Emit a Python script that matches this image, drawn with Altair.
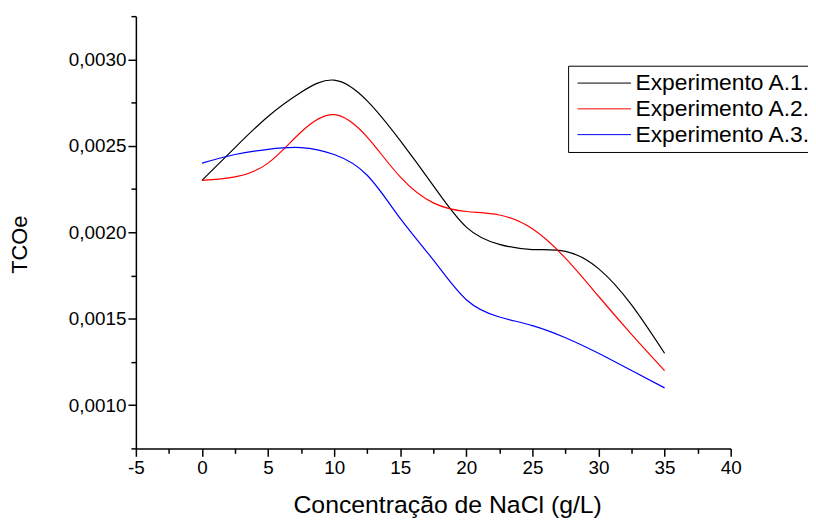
import altair as alt
import pandas as pd

# NaCl concentration (g/L) at which the curves were read
conc = [0, 2.5, 5, 7.5, 10, 12.5, 15, 17.5, 20, 22.5, 25, 27.5, 30, 32.5, 35]

# TCOe values
exp_a1 = [0.00230, 0.00249, 0.00267, 0.00281, 0.00288, 0.00276, 0.00253, 0.00227,
          0.00203, 0.00193, 0.00190, 0.00189, 0.00179, 0.00158, 0.00130]
exp_a2 = [0.00230, 0.00232, 0.00240, 0.00258, 0.00268, 0.00255, 0.00232, 0.00217,
          0.00212, 0.00210, 0.00202, 0.00185, 0.00163, 0.00141, 0.00120]
exp_a3 = [0.00240, 0.00245, 0.00248, 0.00249, 0.00245, 0.00233, 0.00208, 0.00184,
          0.00161, 0.00151, 0.00146, 0.00139, 0.00130, 0.00120, 0.00110]

series_names = ["Experimento A.1.", "Experimento A.2.", "Experimento A.3."]
series_colors = ["#000000", "#ff0000", "#0000ff"]

x_ticks = [-5, -2.5, 0, 2.5, 5, 7.5, 10, 12.5, 15, 17.5, 20, 22.5, 25, 27.5,
           30, 32.5, 35, 37.5, 40]
y_ticks = [0.00075, 0.0010, 0.00125, 0.0015, 0.00175, 0.0020, 0.00225,
           0.0025, 0.00275, 0.0030, 0.00325]

rows = []
for name, vals in zip(series_names, [exp_a1, exp_a2, exp_a3]):
    for c, v in zip(conc, vals):
        rows.append({"conc": c, "tcoe": v, "serie": name})
df = pd.DataFrame(rows)

FONT = "Liberation Sans"
x_major = "datum.value % 5 === 0"
y_major = "round(datum.value * 10000) % 5 === 0"

x_axis = alt.Axis(
    values=x_ticks,
    labelExpr=f"{x_major} ? '' + datum.value : ''",
    tickSize={"condition": {"test": x_major, "value": 8}, "value": 5},
    tickWidth=1.5, tickColor="black",
    domainColor="black", domainWidth=1.5,
    grid=False, labelOverlap=False, labelFlush=False,
    labelFont=FONT, labelFontSize=19, labelColor="black", labelPadding=2,
    title="Concentração de NaCl (g/L)",
    titleFont=FONT, titleFontSize=25, titleFontWeight="normal", titleColor="black",
    titleX=314, titleY=65, titleBaseline="alphabetic", titleAnchor="middle",
)
y_axis = alt.Axis(
    values=y_ticks,
    labelExpr=f"{y_major} ? replace(format(datum.value, '.4f'), '.', ',') : ''",
    tickSize={"condition": {"test": y_major, "value": 8}, "value": 5},
    tickWidth=1.5, tickColor="black",
    domainColor="black", domainWidth=1.5,
    grid=False, labelOverlap=False, labelFlush=False,
    labelFont=FONT, labelFontSize=19, labelColor="black", labelPadding=2,
    title="TCOe",
    titleFont=FONT, titleFontSize=22, titleFontWeight="normal", titleColor="black",
    titleX=-110, titleY=230, titleAlign="center", titleBaseline="alphabetic",
)

legend = alt.Legend(
    orient="none", legendX=436, legendY=50, title=None,
    symbolType="stroke", symbolSize=2916, symbolStrokeWidth=1,
    clipHeight=25, rowPadding=1, padding=5,
    symbolOffset=4, labelOffset=4,
    labelFont=FONT, labelFontSize=23, labelColor="black", labelLimit=0,
    strokeColor="black", fillColor="white", cornerRadius=0,
)

chart = alt.Chart(df).mark_line(interpolate="natural", strokeWidth=1.2, clip=True).encode(
    x=alt.X("conc:Q", scale=alt.Scale(domain=[-5, 40], nice=False, zero=False), axis=x_axis),
    y=alt.Y("tcoe:Q", scale=alt.Scale(domain=[0.00075, 0.00325], nice=False, zero=False), axis=y_axis),
    color=alt.Color("serie:N", scale=alt.Scale(domain=series_names, range=series_colors), legend=legend),
).properties(
    width=600, height=436,
    autosize=alt.AutoSizeParams(type="none"),
    padding={"left": 129, "top": 6, "right": 78, "bottom": 70},
    background="white",
).configure_view(stroke=None)

chart.save("out.html", embed_options={"renderer": "svg", "actions": False})
